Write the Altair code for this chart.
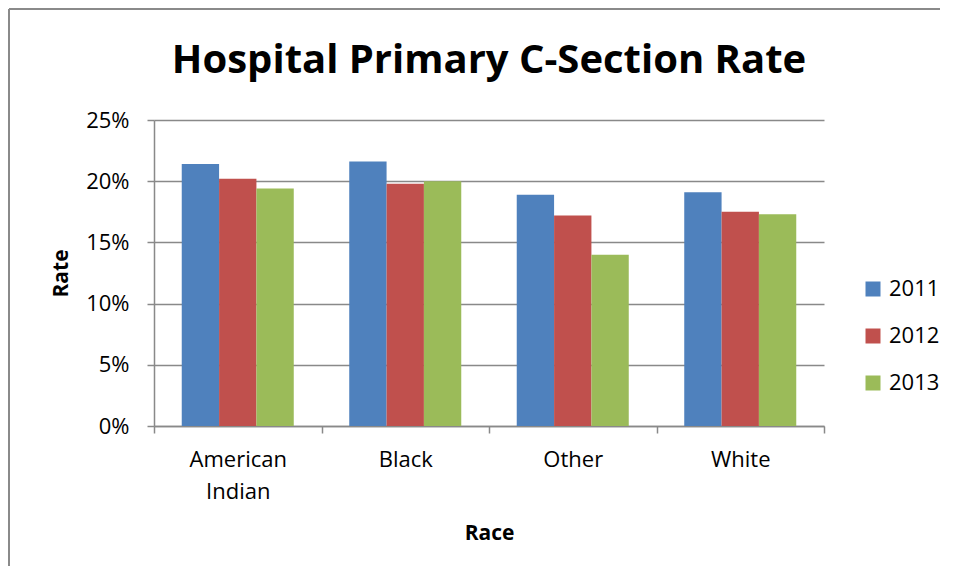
import altair as alt
import pandas as pd

races = ["American Indian", "Black", "Other", "White"]
years = ["2011", "2012", "2013"]
rate_2011 = [0.214, 0.216, 0.189, 0.191]
rate_2012 = [0.202, 0.198, 0.172, 0.175]
rate_2013 = [0.194, 0.200, 0.140, 0.173]
colors = ["#4F81BD", "#C0504D", "#9BBB59"]

rows = []
for i, r in enumerate(races):
    for y, vals in zip(years, [rate_2011, rate_2012, rate_2013]):
        rows.append({"Race": r, "Year": y, "Rate": vals[i]})
df = pd.DataFrame(rows)

FONT = "Open Sans"
GRID = "#898989"

bars = alt.Chart(df).mark_bar().encode(
    x=alt.X("Race:N", sort=races,
            scale=alt.Scale(paddingInner=0, paddingOuter=0),
            axis=alt.Axis(title="Race", tickBand="extent", tickSize=7,
                          labelAngle=0, labelPadding=16,
                          labelExpr="datum.label == 'American Indian' ? ['American', 'Indian'] : datum.label",
                          labelLineHeight=32, titlePadding=20)),
    xOffset=alt.XOffset("Year:N", sort=years,
                        scale=alt.Scale(paddingInner=0, paddingOuter=0.743)),
    y=alt.Y("Rate:Q", scale=alt.Scale(domain=[0, 0.25], nice=False),
            axis=alt.Axis(title="Rate", format=".0%", values=[0, 0.05, 0.10, 0.15, 0.20, 0.25],
                          tickSize=7, labelPadding=18, titlePadding=14)),
    color=alt.Color("Year:N", sort=years,
                    scale=alt.Scale(domain=years, range=colors),
                    legend=alt.Legend(title=None, orient="none", legendX=708, legendY=158,
                                      symbolType="square", symbolSize=225,
                                      symbolStrokeWidth=0, rowPadding=25,
                                      labelFontSize=22, labelFont=FONT, labelColor="#000000",
                                      labelOffset=5)),
)

frame_left = alt.Chart(df).mark_rule(color="#8a8a8a", strokeWidth=1.2, clip=False).encode(
    x=alt.value(-145), y=alt.value(-111), y2=alt.value(446)
)
frame_top = alt.Chart(df).mark_rule(color="#8a8a8a", strokeWidth=1.2, clip=False).encode(
    x=alt.value(-145), x2=alt.value(786), y=alt.value(-111)
)

chart = alt.layer(bars, frame_left, frame_top).properties(
    width=670,
    height=306,
    padding={"left": 146, "top": 112, "right": 124, "bottom": 140},
    autosize=alt.AutoSizeParams(type="none"),
    title=alt.TitleParams("Hospital Primary C-Section Rate", font=FONT, fontSize=40,
                          fontWeight="bold", color="#000000", anchor="middle",
                          frame="group", offset=-73),
).configure_view(
    stroke=None
).configure_axis(
    labelFont=FONT, labelFontSize=22, labelColor="#000000",
    titleFont=FONT, titleFontSize=21, titleFontWeight="bold", titleColor="#000000",
    domainColor=GRID, domainWidth=1.5, tickColor=GRID, tickWidth=1.5,
    gridColor=GRID, gridWidth=1.5,
).configure_axisX(
    grid=False
).configure_axisY(
    grid=True
)

chart.save("out.html", embed_options={"renderer": "svg", "actions": False})
